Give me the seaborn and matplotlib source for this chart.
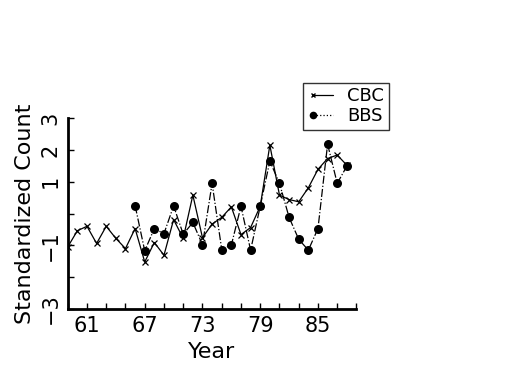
import matplotlib
matplotlib.use("Agg")
import matplotlib.pyplot as plt
import seaborn as sns
from matplotlib.legend_handler import HandlerLine2D
from matplotlib.lines import Line2D

# CBC series, 1959-1988
cbc_years = list(range(59, 89))
cbc_vals = [-1.05, -0.54, -0.40, -0.94, -0.40, -0.78, -1.10, -0.47, -1.52, -0.91,
            -1.31, -0.19, -0.78, 0.58, -0.76, -0.33, -0.12, 0.21, -0.66, -0.44,
            0.23, 2.15, 0.58, 0.44, 0.37, 0.81, 1.39, 1.73, 1.84, 1.52]

# BBS series, 1966-1988
bbs_years = list(range(66, 89))
bbs_vals = [0.25, -1.17, -0.47, -0.63, 0.24, -0.65, -0.28, -0.98, 0.95, -1.13,
            -0.99, 0.23, -1.15, 0.23, 1.65, 0.95, -0.12, -0.81, -1.15, -0.47,
            2.18, 0.95, 1.49]

x_ticks = list(range(59, 90, 2))
x_labels = ["61", "67", "73", "79", "85"]
y_ticks = [-3, -2, -1, 0, 1, 2, 3]
y_labels = ["\u22123", "", "\u22121", "", "1", "2", "3"]

sns.set_style("ticks")
plt.rcParams["font.family"] = ["DejaVu Sans"]
plt.rcParams["text.color"] = "black"
plt.rcParams["axes.labelcolor"] = "black"
plt.rcParams["xtick.color"] = "black"
plt.rcParams["ytick.color"] = "black"

fig = plt.figure(figsize=(5.25, 3.75), dpi=100)
ax = fig.add_axes([0.129, 0.176, 0.550, 0.509])

sns.lineplot(x=cbc_years, y=cbc_vals, ax=ax, color="black", linewidth=0.9,
             marker="x", markersize=4, markeredgewidth=0.9,
             markeredgecolor="black", label="CBC")
sns.lineplot(x=bbs_years, y=bbs_vals, ax=ax, color="black", linewidth=0.9,
             linestyle="-.", marker="o", markersize=6.5, markeredgewidth=0,
             label="BBS")

ax.set_xlim(59, 89)
ax.set_ylim(-3, 3)
ax.set_xticks(x_ticks)
ax.set_xticklabels([str(t) if str(t) in x_labels else "" for t in x_ticks])
ax.set_yticks(y_ticks)
ax.set_yticklabels(y_labels, rotation=90, va="center")
ax.tick_params(direction="in", length=4, width=1, labelsize=15, pad=5)

sns.despine(ax=ax)
for s in ["left", "bottom"]:
    ax.spines[s].set_linewidth(2)
    ax.spines[s].set_color("black")

ax.set_xlabel("Year", fontsize=16)
ax.set_ylabel("Standardized Count", fontsize=16)


class FirstMarkerHandler(HandlerLine2D):
    # marker only at the left end of the legend line
    def create_artists(self, legend, orig_handle, xdescent, ydescent,
                       width, height, fontsize, trans):
        arts = super().create_artists(legend, orig_handle, xdescent, ydescent,
                                      width, height, fontsize, trans)
        for a in arts:
            if isinstance(a, Line2D) and a.get_marker() not in (None, "None", ""):
                a.set_markevery([0])
        return arts


ax.get_legend().remove()
handles = [
    Line2D([], [], color="black", linewidth=0.9, marker="x", markersize=3.5),
    Line2D([], [], color="black", linewidth=0.9, linestyle=":", marker="o",
           markersize=5.5, markeredgewidth=0),
]
leg = fig.legend(handles, ["CBC", "BBS"], loc="upper left",
                 bbox_to_anchor=(0.577, 0.779), bbox_transform=fig.transFigure,
                 borderaxespad=0, fancybox=False, frameon=True, fontsize=13,
                 numpoints=2, handlelength=1.7, handletextpad=0.5,
                 labelspacing=0.1, borderpad=0.25,
                 handler_map={Line2D: FirstMarkerHandler(numpoints=2)})
leg.get_frame().set_edgecolor("black")
leg.get_frame().set_linewidth(1)

fig.savefig("out.png", dpi=100)
